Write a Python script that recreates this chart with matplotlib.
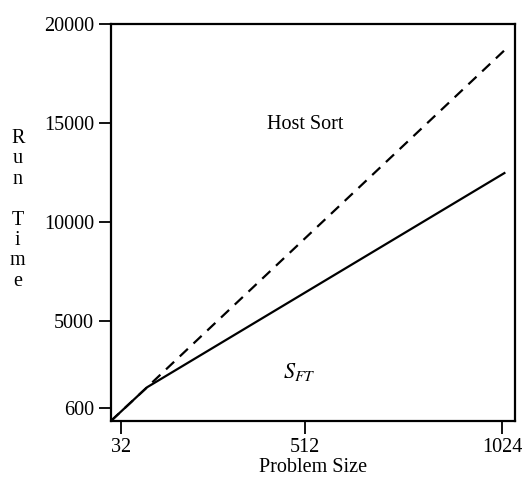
import matplotlib
matplotlib.use("Agg")
import matplotlib.pyplot as plt

# Data
problem_size = [6, 100, 1030]
sft_time = [-50, 1650, 12460]
host_sort_time = [-50, 1650, 18650]

x_ticks = [32, 512, 1024]
y_ticks = [600, 5000, 10000, 15000, 20000]

plt.rcParams['font.family'] = ['Liberation Serif', 'DejaVu Serif']
plt.rcParams['mathtext.fontset'] = 'stix'

fs = 14.5

fig = plt.figure(figsize=(5.23, 4.87), dpi=100)
ax = fig.add_axes([0.212, 0.1355, 0.773, 0.816])

ax.plot(problem_size, sft_time, color='black', lw=1.6)
ax.plot(problem_size, host_sort_time, color='black', lw=1.6, dashes=(5, 3.5))

ax.set_xlim(6, 1058)
ax.set_ylim(-50, 20000)
ax.set_xticks(x_ticks)
ax.set_xticklabels([str(v) for v in x_ticks])
ax.set_yticks(y_ticks)
ax.set_yticklabels([str(v) for v in y_ticks])
ax.tick_params(direction='out', length=9, width=1.3, labelsize=fs, pad=3)
for s in ax.spines.values():
    s.set_linewidth(1.6)

ax.set_xlabel('Problem Size', fontsize=fs, labelpad=1)

# stacked-letter y label
fig.text(0.034, 0.569, 'R\nu\nn\n\nT\ni\nm\ne', fontsize=fs,
         ha='center', va='center', linespacing=1.1)

ax.text(512, 14900, 'Host Sort', fontsize=fs, ha='center', va='center')
ax.text(495, 2400, r'$S_{FT}$', fontsize=16, ha='center', va='center')

fig.savefig('out.png', dpi=100)
